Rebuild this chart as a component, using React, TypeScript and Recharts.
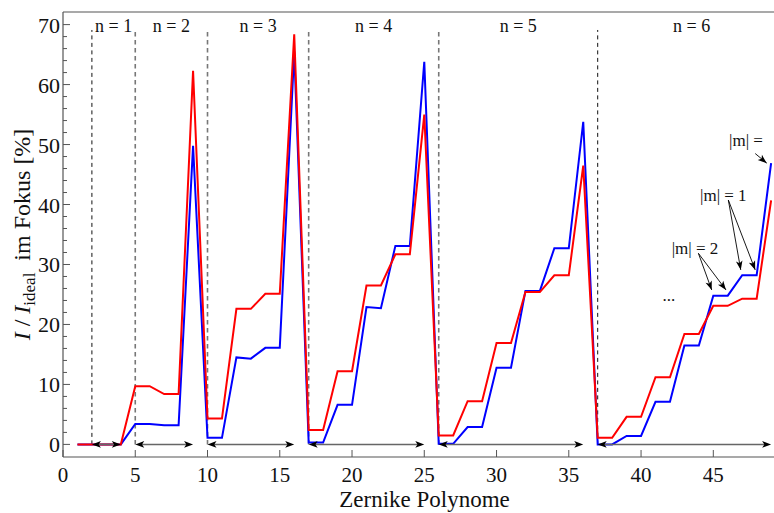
import React from "react";
import {
  LineChart,
  Line,
  XAxis,
  YAxis,
  ReferenceLine,
  ReferenceDot,
} from "recharts";

// Zernike polynomial index (Noll-like ordering)
const zernikeIndex = [
  1, 2, 3, 4, 5, 6, 7, 8, 9, 10, 11, 12, 13, 14, 15, 16, 17, 18, 19, 20, 21,
  22, 23, 24, 25, 26, 27, 28, 29, 30, 31, 32, 33, 34, 35, 36, 37, 38, 39, 40,
  41, 42, 43, 44, 45, 46, 47, 48, 49,
];

// I / I_ideal in focus [%]
const redValues = [
  0, 0, 0, 0, 9.7, 9.7, 8.4, 8.4, 62.3, 4.3, 4.3, 22.6, 22.6, 25.1, 25.1,
  68.4, 2.4, 2.4, 12.2, 12.2, 26.5, 26.5, 31.7, 31.7, 55.0, 1.5, 1.5, 7.2,
  7.2, 16.9, 16.9, 25.4, 25.4, 28.2, 28.2, 46.5, 1.1, 1.1, 4.6, 4.6, 11.2,
  11.2, 18.4, 18.4, 23.1, 23.1, 24.3, 24.3, 40.7,
];
const blueValues = [
  0, 0, 0, 0, 3.4, 3.4, 3.2, 3.2, 49.8, 1.1, 1.1, 14.5, 14.3, 16.1, 16.1,
  65.5, 0.3, 0.3, 6.6, 6.6, 22.9, 22.7, 33.1, 33.1, 63.8, 0.1, 0.1, 2.9, 2.9,
  12.8, 12.8, 25.6, 25.6, 32.7, 32.7, 53.8, 0, 0, 1.4, 1.4, 7.1, 7.1, 16.5,
  16.5, 24.8, 24.8, 28.2, 28.2, 46.9,
];

const xTicks = [0, 5, 10, 15, 20, 25, 30, 35, 40, 45];
const yTicks = [
  0, 2, 4, 6, 8, 10, 12, 14, 16, 18, 20, 22, 24, 26, 28, 30, 32, 34, 36, 38,
  40, 42, 44, 46, 48, 50, 52, 54, 56, 58, 60, 62, 64, 66, 68, 70,
];

// radial order groups
const nLabels = ["n = 1", "n = 2", "n = 3", "n = 4", "n = 5", "n = 6"];
const nStarts = [2, 5, 10, 17, 26, 37];
const nEnds = [4, 9, 16, 25, 36, 49];
const nCenters = [3.5, 7.5, 13.5, 21.5, 31.5, 43.5];

const X_MAX = 49.2;
const Y_MIN = -2.1;
const Y_MAX = 72.1;
const LINE_TOP = 69.1;
const LABEL_Y = 68.7;

const FONT = "'Liberation Serif', 'Times New Roman', serif";
const FRAME = "#555";

const data = zernikeIndex.map((k, i) => ({
  k,
  red: redValues[i],
  blue: blueValues[i],
}));

function head(tx: number, ty: number, dx: number, dy: number) {
  const len = Math.hypot(dx, dy) || 1;
  const ux = dx / len;
  const uy = dy / len;
  const L = 9;
  const W = 3.3;
  const bx = tx - ux * L;
  const by = ty - uy * L;
  const nx = tx - ux * L * 0.75;
  const ny = ty - uy * L * 0.75;
  return `${tx},${ty} ${bx - uy * W},${by + ux * W} ${nx},${ny} ${bx + uy * W},${by - ux * W}`;
}

const DoubleArrow = (p: any) => {
  const { x1, y1, x2, y2 } = p;
  return (
    <g>
      <line x1={x1 + 5} y1={y1} x2={x2 - 5} y2={y2} stroke="#666" strokeWidth={1.5} />
      <polygon points={head(x1, y1, x1 - x2, y1 - y2)} fill="#000" />
      <polygon points={head(x2, y2, x2 - x1, y2 - y1)} fill="#000" />
    </g>
  );
};

const SingleArrow = (p: any) => {
  const { x1, y1, x2, y2 } = p;
  return (
    <g>
      <line x1={x1} y1={y1} x2={x2} y2={y2} stroke="#000" strokeWidth={0.9} />
      <polygon points={head(x2, y2, x2 - x1, y2 - y1)} fill="#000" />
    </g>
  );
};

const textAt =
  (txt: string, size: number, anchor: "start" | "middle" | "end") =>
  (p: any) => (
    <text
      x={p.cx}
      y={p.cy}
      textAnchor={anchor}
      fontFamily={FONT}
      fontSize={size}
      fill="#111"
    >
      {txt}
    </text>
  );

const YTick = (props: any) => {
  const { x, y, payload } = props;
  const major = payload.value % 10 === 0;
  return (
    <g>
      <line x1={x} y1={y} x2={x + (major ? 7 : 4)} y2={y} stroke={FRAME} strokeWidth={1} />
      {major && (
        <text x={x - 3} y={y + 8} textAnchor="end" fontFamily={FONT} fontSize={22} fill="#111">
          {payload.value}
        </text>
      )}
    </g>
  );
};

const XTick = (props: any) => {
  const { x, y, payload } = props;
  return (
    <g>
      <line x1={x} y1={y} x2={x} y2={y - 7} stroke={FRAME} strokeWidth={1} />
      <text x={x} y={y + 25} textAnchor="middle" fontFamily={FONT} fontSize={21} fill="#111">
        {payload.value}
      </text>
    </g>
  );
};

const YLabel = (props: any) => {
  const vb = props.viewBox || { x: 0, y: 12, width: 63, height: 445 };
  const cx = vb.x + 30;
  const cy = vb.y + vb.height / 2;
  return (
    <text
      transform={`translate(${cx},${cy}) rotate(-90)`}
      textAnchor="middle"
      fontFamily={FONT}
      fontSize={24}
      fill="#111"
    >
      <tspan fontStyle="italic">I</tspan>
      <tspan>{" / "}</tspan>
      <tspan fontStyle="italic">I</tspan>
      <tspan fontSize={17} dy={5}>ideal</tspan>
      <tspan dy={-5}>{"\u00a0\u00a0im Fokus [%]"}</tspan>
    </text>
  );
};

const XLabel = (props: any) => {
  const vb = props.viewBox || { x: 63, y: 457, width: 711, height: 56 };
  return (
    <text
      x={vb.x + vb.width / 2 + 6}
      y={vb.y + 50}
      textAnchor="middle"
      fontFamily={FONT}
      fontSize={23}
      fill="#111"
    >
      Zernike Polynome
    </text>
  );
};

export default function App() {
  return (
    <div
      style={{
        position: "absolute",
        left: 0,
        top: 0,
        width: 774,
        height: 513,
        background: "#fff",
      }}
    >
      <LineChart
        width={774}
        height={513}
        data={data}
        margin={{ top: 12, right: 0, bottom: 0, left: 0 }}
      >
        <XAxis
          dataKey="k"
          type="number"
          domain={[0, X_MAX]}
          allowDataOverflow
          ticks={xTicks}
          interval={0}
          tickSize={0}
          tickMargin={0}
          tickLine={false}
          tick={XTick}
          axisLine={{ stroke: FRAME, strokeWidth: 1.2 }}
          height={56}
          label={XLabel}
        />
        <YAxis
          type="number"
          domain={[Y_MIN, Y_MAX]}
          allowDataOverflow
          ticks={yTicks}
          interval={0}
          tickSize={0}
          tickMargin={0}
          tickLine={false}
          tick={YTick}
          axisLine={{ stroke: FRAME, strokeWidth: 1.2 }}
          width={63}
          label={YLabel}
        />
        <ReferenceLine y={Y_MAX} stroke={FRAME} strokeWidth={1.2} ifOverflow="visible" />

        {nStarts.map((s, i) => {
          const thin = i === 0 || i === 5;
          return (
            <ReferenceLine
              key={`d${s}`}
              segment={[
                { x: s, y: 0 },
                { x: s, y: LINE_TOP },
              ]}
              stroke={thin ? "#111" : "#777"}
              strokeWidth={thin ? 1 : 1.6}
              strokeDasharray={thin ? "4 3.5" : "4.5 3.5"}
            />
          );
        })}

        <Line
          type="linear"
          dataKey="blue"
          stroke="#0000ff"
          strokeWidth={2}
          dot={false}
          isAnimationActive={false}
        />
        <Line
          type="linear"
          dataKey="red"
          stroke="#ff0000"
          strokeWidth={2}
          dot={false}
          isAnimationActive={false}
        />

        {nStarts.map((s, i) => (
          <ReferenceLine
            key={`a${s}`}
            segment={[
              { x: s, y: 0 },
              { x: nEnds[i], y: 0 },
            ]}
            shape={DoubleArrow}
          />
        ))}

        {nLabels.map((t, i) => (
          <ReferenceDot
            key={t}
            x={nCenters[i]}
            y={LABEL_Y}
            r={0}
            ifOverflow="visible"
            shape={textAt(t, 18, "middle")}
          />
        ))}

        {/* |m| annotations */}
        <ReferenceDot x={46.09} y={49.8} r={0} ifOverflow="visible" shape={textAt("|m| =", 17, "start")} />
        <ReferenceDot x={44.08} y={40.6} r={0} ifOverflow="visible" shape={textAt("|m| = 1", 17, "start")} />
        <ReferenceDot x={42.12} y={31.75} r={0} ifOverflow="visible" shape={textAt("|m| = 2", 17, "start")} />
        <ReferenceDot x={41.93} y={23.9} r={0} ifOverflow="visible" shape={textAt("...", 17, "middle")} />

        <ReferenceLine segment={[{ x: 47.9, y: 48.5 }, { x: 48.7, y: 46.9 }]} ifOverflow="visible" shape={SingleArrow} />
        <ReferenceLine segment={[{ x: 46.04, y: 40.75 }, { x: 46.9, y: 29.1 }]} ifOverflow="visible" shape={SingleArrow} />
        <ReferenceLine segment={[{ x: 46.04, y: 40.75 }, { x: 47.9, y: 29.1 }]} ifOverflow="visible" shape={SingleArrow} />
        <ReferenceLine segment={[{ x: 43.97, y: 31.86 }, { x: 44.89, y: 25.75 }]} ifOverflow="visible" shape={SingleArrow} />
        <ReferenceLine segment={[{ x: 43.97, y: 31.86 }, { x: 45.88, y: 25.75 }]} ifOverflow="visible" shape={SingleArrow} />
      </LineChart>
    </div>
  );
}
